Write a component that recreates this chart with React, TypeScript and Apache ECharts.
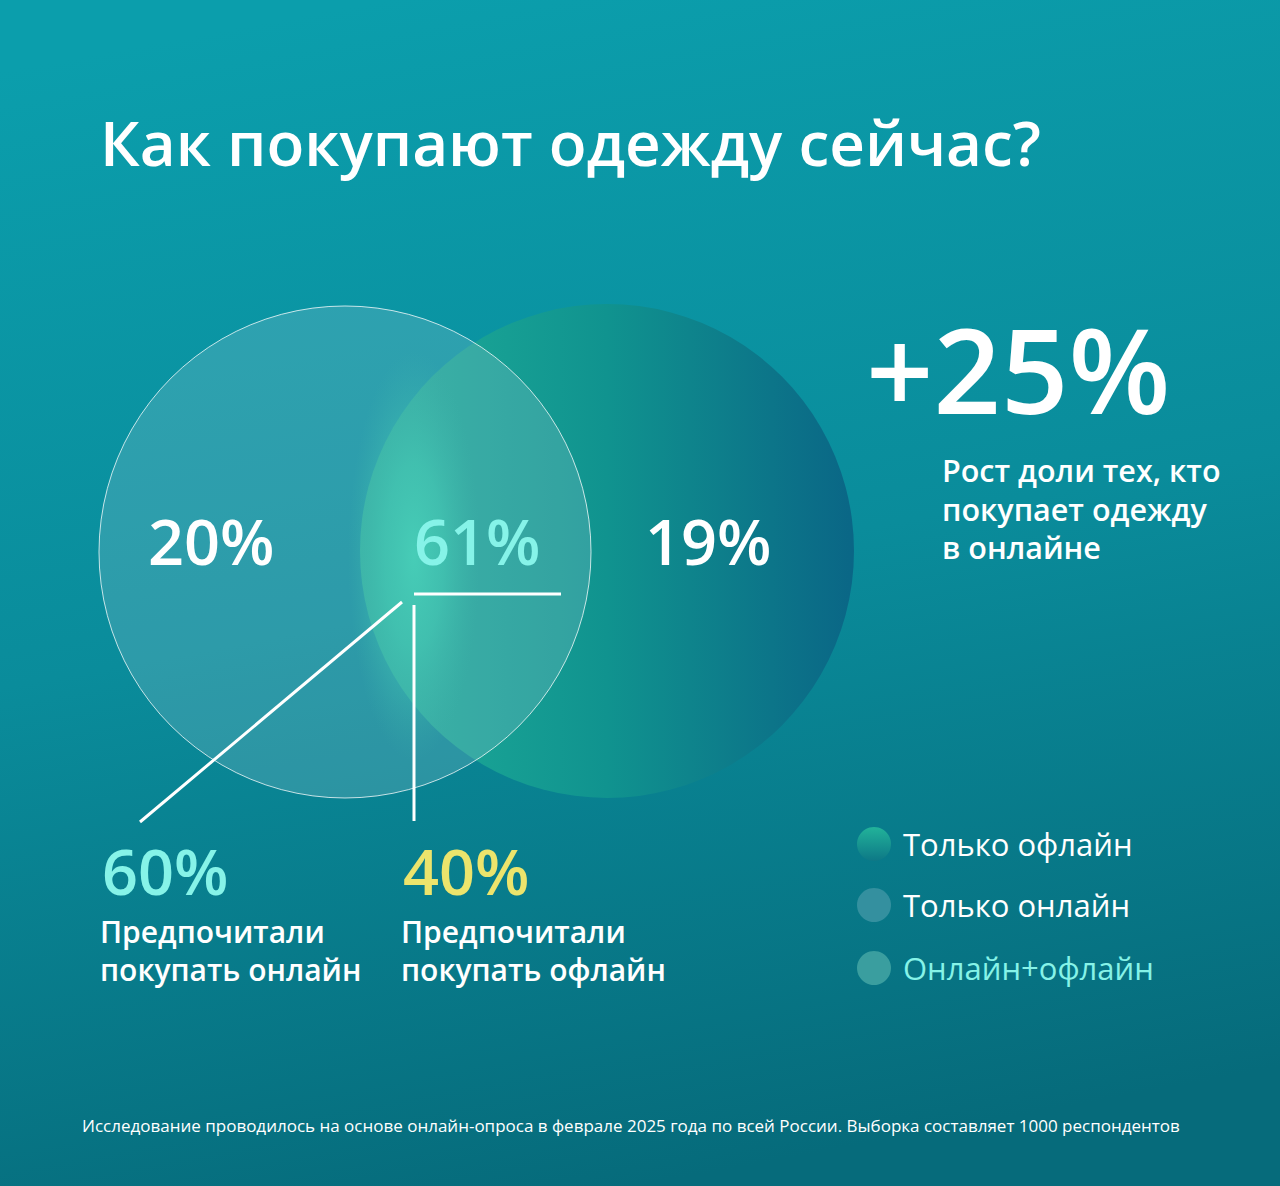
import React, { useEffect, useRef } from "react";
import * as echarts from "echarts";

const titleText = "Как покупают одежду сейчас?";
const regionNames = ["Только онлайн", "Онлайн+офлайн", "Только офлайн"];
const regionShares = [20, 61, 19];
const preferenceCaptions = [
  ["Предпочитали", "покупать онлайн"],
  ["Предпочитали", "покупать офлайн"],
];
const preferenceShares = [60, 40];
const growthValue = 25;
const growthCaption = ["Рост доли тех, кто", "покупает одежду", "в онлайне"];
const legendOrder = ["Только офлайн", "Только онлайн", "Онлайн+офлайн"];
const footnote =
  "Исследование проводилось на основе онлайн-опроса в феврале 2025 года по всей России. Выборка составляет 1000 респондентов";

const FONT = "'Open Sans', 'Noto Sans', sans-serif";
const WHITE = "#ffffff";
const CYAN = "#86f3e8";
const YELLOW = "#ece46c";

export default function App() {
  const ref = useRef<HTMLDivElement>(null);
  useEffect(() => {
    document.body.style.margin = "0";
    const chart = echarts.init(ref.current!, null, { renderer: "svg" });

    const regionPos: Record<string, { x: number; color: string }> = {
      "Только онлайн": { x: 148, color: WHITE },
      "Онлайн+офлайн": { x: 414, color: CYAN },
      "Только офлайн": { x: 645, color: WHITE },
    };
    const legendFill: Record<string, any> = {
      "Только офлайн": new echarts.graphic.LinearGradient(0, 0, 0, 1, [
        { offset: 0, color: "#22b39a" },
        { offset: 1, color: "#0d7886" },
      ]),
      "Только онлайн": "#34909f",
      "Онлайн+офлайн": "#3a9e9f",
    };

    const graphics: any[] = [];
    // background
    graphics.push({
      type: "rect",
      shape: { x: 0, y: 0, width: 1280, height: 1186 },
      style: {
        fill: new echarts.graphic.LinearGradient(0.3, 0, 0.5, 1, [
          { offset: 0, color: "#0b9eac" },
          { offset: 0.5, color: "#0a8c9b" },
          { offset: 1, color: "#066b7b" },
        ]),
      },
      silent: true,
      z: 0,
    });
    // title
    graphics.push({
      type: "text",
      x: 100,
      y: 142,
      style: { text: titleText, fill: WHITE, font: `600 62px ${FONT}`, verticalAlign: "middle" },
      z: 5,
    });
    // right circle (offline)
    graphics.push({
      type: "circle",
      shape: { cx: 607, cy: 551, r: 247 },
      style: {
        fill: new echarts.graphic.LinearGradient(0, 0, 1, 0, [
          { offset: 0, color: "#1fae99" },
          { offset: 0.5, color: "#10938f" },
          { offset: 1, color: "#0a6686" },
        ]),
      },
      z: 1,
    });
    // left circle (online)
    graphics.push({
      type: "circle",
      shape: { cx: 345, cy: 552, r: 246 },
      style: { fill: "rgba(150,200,212,0.25)" },
      z: 3,
    });
    // soft glow along the lens edge
    graphics.push({
      type: "ellipse",
      shape: { cx: 414, cy: 556, rx: 66, ry: 205 },
      style: {
        fill: new echarts.graphic.RadialGradient(0.5, 0.5, 0.5, [
          { offset: 0, color: "rgba(72,208,185,0.9)" },
          { offset: 0.45, color: "rgba(68,200,180,0.65)" },
          { offset: 0.8, color: "rgba(65,190,175,0.22)" },
          { offset: 1, color: "rgba(60,180,170,0)" },
        ]),
      },
      z: 4,
    });
    // left circle outline
    graphics.push({
      type: "circle",
      shape: { cx: 345, cy: 552, r: 246 },
      style: { fill: "none", stroke: "rgba(255,255,255,0.75)", lineWidth: 1 },
      z: 5,
    });
    // region labels
    regionNames.forEach((name, i) => {
      graphics.push({
        type: "text",
        x: regionPos[name].x,
        y: 540,
        style: {
          text: `${regionShares[i]}%`,
          fill: regionPos[name].color,
          font: `600 63px ${FONT}`,
          verticalAlign: "middle",
        },
        z: 6,
      });
    });
    // leader lines
    graphics.push({ type: "line", shape: { x1: 414, y1: 594, x2: 561, y2: 594 }, style: { stroke: WHITE, lineWidth: 3 }, z: 6 });
    graphics.push({ type: "line", shape: { x1: 414, y1: 605, x2: 414, y2: 821 }, style: { stroke: WHITE, lineWidth: 3 }, z: 6 });
    graphics.push({ type: "line", shape: { x1: 402, y1: 602, x2: 140, y2: 822 }, style: { stroke: WHITE, lineWidth: 3 }, z: 6 });

    // preference block
    const prefX = [102, 403];
    const prefColor = [CYAN, YELLOW];
    preferenceShares.forEach((v, i) => {
      graphics.push({
        type: "text",
        x: prefX[i],
        y: 870,
        style: { text: `${v}%`, fill: prefColor[i], font: `600 63px ${FONT}`, verticalAlign: "middle" },
        z: 6,
      });
      preferenceCaptions[i].forEach((line, j) => {
        graphics.push({
          type: "text",
          x: prefX[i] - 2,
          y: 931 + j * 38,
          style: { text: line, fill: WHITE, font: `600 30px ${FONT}`, verticalAlign: "middle" },
          z: 6,
        });
      });
    });

    // growth
    graphics.push({
      type: "text",
      x: 866,
      y: 368,
      style: {
        text: `+${growthValue}%`,
        fill: WHITE,
        font: `600 118px ${FONT}`,
        verticalAlign: "middle",
      },
      z: 6,
    });
    growthCaption.forEach((line, j) => {
      graphics.push({
        type: "text",
        x: 942,
        y: 470 + j * 38.5,
        style: { text: line, fill: WHITE, font: `600 30.5px ${FONT}`, verticalAlign: "middle" },
        z: 6,
      });
    });

    // legend
    const legendY = [844, 905, 968];
    legendOrder.forEach((name, i) => {
      graphics.push({
        type: "circle",
        shape: { cx: 874, cy: legendY[i], r: 17 },
        style: { fill: legendFill[name] },
        z: 6,
      });
      graphics.push({
        type: "text",
        x: 903,
        y: legendY[i],
        style: {
          text: name,
          fill: name === "Онлайн+офлайн" ? CYAN : WHITE,
          font: `400 31px ${FONT}`,
          verticalAlign: "middle",
        },
        z: 6,
      });
    });

    // footnote
    graphics.push({
      type: "text",
      x: 82,
      y: 1125,
      style: { text: footnote, fill: WHITE, font: `400 17px ${FONT}`, verticalAlign: "middle" },
      z: 6,
    });

    chart.setOption({ animation: false, graphic: graphics });
    return () => chart.dispose();
  }, []);
  return <div ref={ref} style={{ width: 1280, height: 1186 }} />;
}
